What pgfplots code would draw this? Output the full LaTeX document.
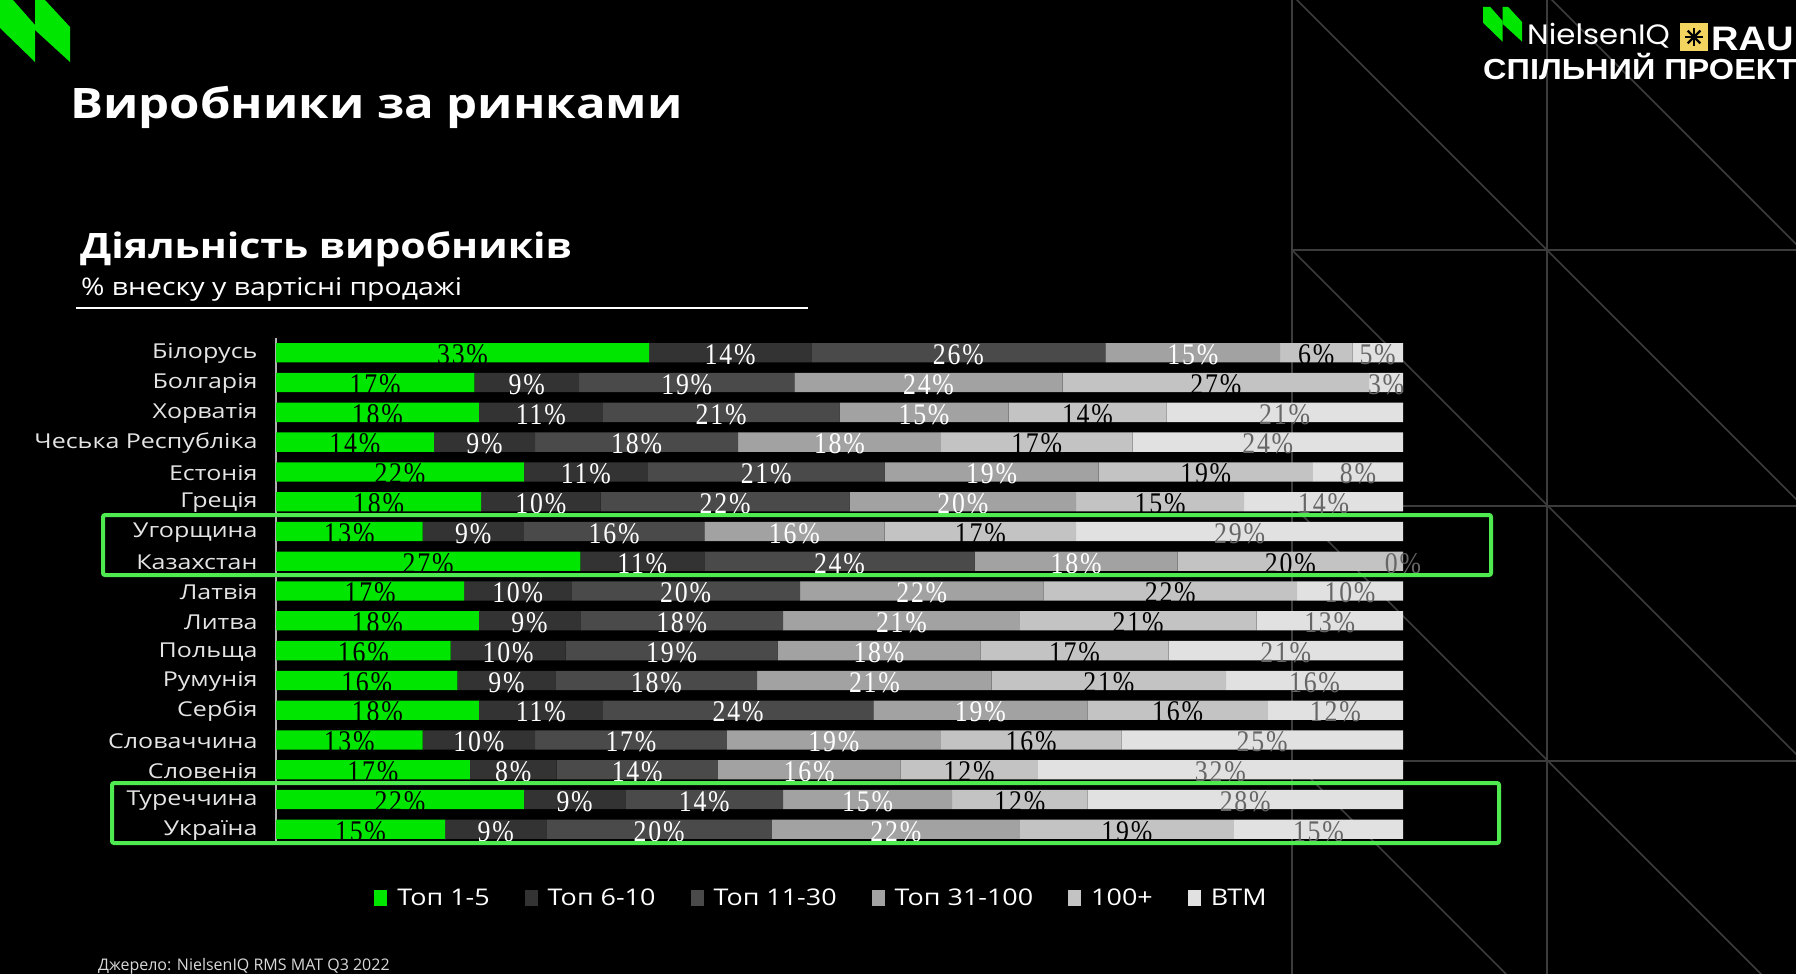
\documentclass[border=0pt]{standalone}
\usepackage{fontspec}
\usepackage{pgfplots}
\pgfplotsset{compat=1.18}
\usepackage{pgfplotstable}
\setmainfont{Open Sans}
\newfontfamily\widefont[FakeStretch=1.17]{Open Sans}
\newfontfamily\labelfont[FakeStretch=1.22]{Open Sans}
\newfontfamily\pctfont[FakeStretch=0.86, LetterSpace=6]{Liberation Serif}
\newfontfamily\logofont[FakeStretch=1.1]{Poppins}
\newfontfamily\heavyfont[FakeStretch=1.12]{Liberation Sans}

\definecolor{topA}{HTML}{00E600}
\definecolor{topB}{HTML}{333333}
\definecolor{topC}{HTML}{4A4A4A}
\definecolor{topD}{HTML}{A2A2A2}
\definecolor{topE}{HTML}{C3C3C3}
\definecolor{topF}{HTML}{E1E1E1}
\definecolor{boxgreen}{HTML}{4FEA4F}
\definecolor{gridgray}{HTML}{3C3C3C}
\definecolor{rauyellow}{HTML}{F2D45E}

% shares of value sales, bar widths (a-f) and printed labels (la-lf)
\pgfplotstableread{
row a    b    c    d    e    f    la lb lc ld le lf
1   33.1 14.4 26.1 15.5 6.4  4.5  33 14 26 15 6  5
2   17.6 9.3  19.1 23.8 27.2 3.0  17 9  19 24 27 3
3   18   11   21   15   14   21   18 11 21 15 14 21
4   14   9    18   18   17   24   14 9  18 18 17 24
5   22   11   21   19   19   8    22 11 21 19 19 8
6   18.2 10.6 22.1 20.1 14.9 14.1 18 10 22 20 15 14
7   13   9    16   16   17   29   13 9  16 16 17 29
8   27   11   24   18   20   0    27 11 24 18 20 0
9   16.7 9.5  20.3 21.6 22.5 9.4  17 10 20 22 22 10
10  18   9    18   21   21   13   18 9  18 21 21 13
11  15.5 10.2 18.8 18.0 16.7 20.8 16 10 19 18 17 21
12  16.1 8.7  17.9 20.8 20.8 15.7 16 9  18 21 21 16
13  18   11   24   19   16   12   18 11 24 19 16 12
14  13   10   17   19   16   25   13 10 17 19 16 25
15  17.2 7.7  14.3 16.2 12.2 32.4 17 8  14 16 12 32
16  22   9    14   15   12   28   22 9  14 15 12 28
17  15   9    20   22   19   15   15 9  20 22 19 15
}\shares
% label positions: middle of each segment
\pgfplotstablecreatecol[expr={\thisrow{a}/2}]{ma}\shares
\pgfplotstablecreatecol[expr={\thisrow{a}+\thisrow{b}/2}]{mb}\shares
\pgfplotstablecreatecol[expr={\thisrow{a}+\thisrow{b}+\thisrow{c}/2}]{mc}\shares
\pgfplotstablecreatecol[expr={\thisrow{a}+\thisrow{b}+\thisrow{c}+\thisrow{d}/2}]{md}\shares
\pgfplotstablecreatecol[expr={\thisrow{a}+\thisrow{b}+\thisrow{c}+\thisrow{d}+\thisrow{e}/2}]{me}\shares
\pgfplotstablecreatecol[expr={\thisrow{a}+\thisrow{b}+\thisrow{c}+\thisrow{d}+\thisrow{e}+\thisrow{f}/2}]{mf}\shares

\pgfplotsset{
  panel/.style={at={(276pt,-337.9pt)}, anchor=north west,
    scale only axis, width=1127pt, height=506.3pt,
    xmin=0, xmax=100, ymin=0.5, ymax=17.5, y dir=reverse},
  pct/.style={only marks, mark=*, mark size=0pt, point meta=explicit,
    nodes near coords={\pgfmathprintnumber[assume math mode=true]{\pgfplotspointmeta}\%},
    every node near coord/.append style={anchor=center, yshift=-2pt, text=#1,
      font=\pctfont\fontsize{30}{30}\selectfont}},
}

\begin{document}
\begin{tikzpicture}[x=1pt,y=1pt]
\useasboundingbox (0,0) rectangle (1796,-974);
\fill[black] (0,0) rectangle (1796,-974);

% background grid
\draw[gridgray, line width=1.5pt] (1292,0) -- (1292,-974) (1547,0) -- (1547,-974);
\draw[gridgray, line width=1.5pt] (1292,-250) -- (1796,-250) (1292,-506) -- (1796,-506) (1292,-761) -- (1796,-761);
\begin{scope}
\clip (1292,0) rectangle (1796,-974);
\foreach \c in {-1552,-1297,-1042,-787,-532}
  \draw[gridgray, line width=1.5pt] (1200,{-(1200+\c)}) -- (2100,{-(2100+\c)});
\end{scope}

% logos
\fill[topA] (0,0) -- (13,0) -- (35,-25) -- (35,-62) -- (0,-28) -- cycle;
\fill[topA] (35,0) -- (45,0) -- (70,-27) -- (70,-62) -- (35,-30) -- cycle;
\begin{scope}[shift={(1483,-7)}, scale=0.56]
\fill[topA] (0,0) -- (13,0) -- (35,-25) -- (35,-62) -- (0,-28) -- cycle;
\fill[topA] (35,0) -- (45,0) -- (70,-27) -- (70,-62) -- (35,-30) -- cycle;
\end{scope}
\node[anchor=base west, inner sep=0, text=white, font=\logofont\fontsize{28}{28}\selectfont] at (1527,-45) {NielsenIQ};
\fill[rauyellow] (1680,-23) rectangle (1708,-51);
\foreach \a in {0,45,90,135}
  \draw[black, line width=2.4pt, shift={(1694,-37)}] (\a:9) -- (\a+180:9);
\node[anchor=base west, inner sep=0, text=white, font=\heavyfont\bfseries\fontsize{34}{34}\selectfont] at (1711,-51) {RAU};
\node[anchor=base west, inner sep=0, text=white, font=\heavyfont\bfseries\fontsize{29}{29}\selectfont] at (1483,-80) {СПІЛЬНИЙ ПРОЕКТ};

% titles
\node[anchor=base west, inner sep=0, text=white, font=\widefont\bfseries\fontsize{42}{42}\selectfont] at (70,-118) {Виробники за ринками};
\node[anchor=base west, inner sep=0, text=white, font=\widefont\bfseries\fontsize{35}{35}\selectfont] at (80,-258) {Діяльність виробників};
\node[anchor=base west, inner sep=0, text=white, font=\widefont\fontsize{24.3}{24.3}\selectfont] at (81,-295) {\% внеску у вартісні продажі};
\draw[white, line width=2pt] (76,-308) -- (808,-308);

\begin{axis}[panel,
  xbar stacked, bar width=19.3pt,
  axis x line=none, axis y line*=left,
  y axis line style={draw=white!70!black, line width=1.5pt},
  ytick={1,...,17}, major tick length=0pt,
  yticklabels={Білорусь, Болгарія, Хорватія, Чеська Республіка, Естонія, Греція, Угорщина, Казахстан, Латвія, Литва, Польща, Румунія, Сербія, Словаччина, Словенія, Туреччина, Україна},
  yticklabel style={text=white!90!black, font=\labelfont\fontsize{20.5}{20.5}\selectfont, xshift=-15pt, yshift=-1pt},
  legend style={at={(0.484,-0.106)}, anchor=center, draw=none, fill=none, text=white,
    font=\widefont\fontsize{23}{23}\selectfont, legend columns=-1,
    /tikz/every odd column/.append style={column sep=8pt},
    /tikz/every even column/.append style={column sep=33pt}},
  legend image code/.code={\fill[#1] (0pt,-8pt) rectangle (13pt,8pt);},
]
\addplot[fill=topA, draw=none] table[x=a, y=row] {\shares};
\addplot[fill=topB, draw=none] table[x=b, y=row] {\shares};
\addplot[fill=topC, draw=none] table[x=c, y=row] {\shares};
\addplot[fill=topD, draw=none] table[x=d, y=row] {\shares};
\addplot[fill=topE, draw=none] table[x=e, y=row] {\shares};
\addplot[fill=topF, draw=none] table[x=f, y=row] {\shares};
\legend{Топ 1-5, Топ 6-10, Топ 11-30, Топ 31-100, 100+, BTM}
\end{axis}

% value labels, centred in each segment
\begin{axis}[panel, hide axis, clip=false]
\addplot[pct=black] table[x=ma, y=row, meta=la] {\shares};
\addplot[pct=white] table[x=mb, y=row, meta=lb] {\shares};
\addplot[pct=white] table[x=mc, y=row, meta=lc] {\shares};
\addplot[pct=white] table[x=md, y=row, meta=ld] {\shares};
\addplot[pct=black] table[x=me, y=row, meta=le] {\shares};
\addplot[pct=black!60] table[x=mf, y=row, meta=lf] {\shares};
\end{axis}

% highlighted markets
\draw[boxgreen, line width=4pt, rounded corners=2pt] (103,-515) rectangle (1491,-575);
\draw[boxgreen, line width=4pt, rounded corners=2pt] (112,-783) rectangle (1499,-843);

\node[anchor=base west, inner sep=0, text=white!85!black, font=\fontsize{16}{16}\selectfont] at (98,-970) {Джерело: NielsenIQ RMS MAT Q3 2022};
\end{tikzpicture}
\end{document}
